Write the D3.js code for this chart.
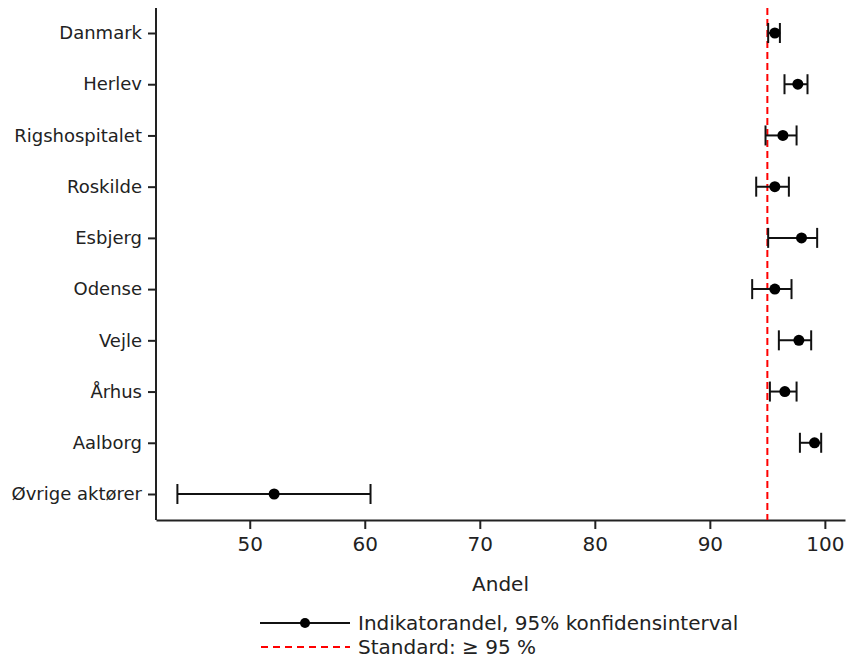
<!DOCTYPE html>
<html lang="da">
<head>
    <meta charset="UTF-8">
    <title>Indikatorandel</title>
    <script src="https://d3js.org/d3.v7.min.js"></script>
    <style>
        body { margin: 0; background: #fff; }
        svg text { font-family: "DejaVu Sans", sans-serif; fill: #222; }
        .domain { stroke: #222; stroke-width: 2px; }
        .tick line { stroke: #222; stroke-width: 2px; }
    </style>
</head>
<body>
    <div id="chart"></div>
    <script>
        const categories = ['Danmark', 'Herlev', 'Rigshospitalet', 'Roskilde', 'Esbjerg',
            'Odense', 'Vejle', 'Århus', 'Aalborg', 'Øvrige aktører'];
        const andel = [95.65, 97.65, 96.35, 95.65, 97.97, 95.65, 97.74, 96.52, 99.1, 52.12];
        const lower = [95.07, 96.49, 94.84, 94.03, 95.07, 93.68, 96.0, 95.22, 97.83, 43.71];
        const upper = [96.09, 98.49, 97.54, 96.87, 99.33, 97.1, 98.81, 97.54, 99.68, 60.5];
        const xTicks = [50, 60, 70, 80, 90, 100];
        const standard = 95;

        const width = 846, height = 659;
        const plotLeft = 156, plotRight = 845, plotTop = 8, plotBottom = 520;

        const svg = d3.select('#chart').append('svg')
            .attr('width', width)
            .attr('height', height);

        const x = d3.scaleLinear()
            .domain([41.85, 101.75])
            .range([plotLeft, plotRight]);

        const y = d3.scalePoint()
            .domain(categories)
            .range([33, 494]);

        // axes
        svg.append('g')
            .attr('transform', `translate(0, ${plotBottom})`)
            .call(d3.axisBottom(x).tickValues(xTicks).tickSize(9).tickPadding(8).tickSizeOuter(0))
            .call(g => g.selectAll('text').style('font-size', '20px'));

        svg.append('g')
            .attr('transform', `translate(${plotLeft}, 0)`)
            .call(d3.axisLeft(y).tickSize(8).tickPadding(6).tickSizeOuter(0))
            .call(g => g.select('.domain').attr('d', `M0,${plotTop}V${plotBottom}`))
            .call(g => g.selectAll('text').style('font-size', '18px'));

        svg.append('text')
            .attr('x', (plotLeft + plotRight) / 2)
            .attr('y', 591)
            .attr('text-anchor', 'middle')
            .style('font-size', '20px')
            .text('Andel');

        // standard line
        svg.append('line')
            .attr('x1', x(standard)).attr('x2', x(standard))
            .attr('y1', plotTop).attr('y2', plotBottom)
            .attr('stroke', '#ff0000')
            .attr('stroke-width', 2)
            .attr('stroke-dasharray', '7,4');

        // error bars
        const rows = categories.map((c, i) => ({ c, v: andel[i], lo: lower[i], hi: upper[i] }));
        const bars = svg.append('g').selectAll('g').data(rows).join('g')
            .attr('transform', d => `translate(0, ${y(d.c)})`);

        bars.append('line')
            .attr('x1', d => x(d.lo)).attr('x2', d => x(d.hi))
            .attr('stroke', '#111').attr('stroke-width', 2);
        bars.append('line')
            .attr('x1', d => x(d.lo)).attr('x2', d => x(d.lo))
            .attr('y1', -10).attr('y2', 10)
            .attr('stroke', '#111').attr('stroke-width', 2);
        bars.append('line')
            .attr('x1', d => x(d.hi)).attr('x2', d => x(d.hi))
            .attr('y1', -10).attr('y2', 10)
            .attr('stroke', '#111').attr('stroke-width', 2);
        bars.append('circle')
            .attr('cx', d => x(d.v))
            .attr('r', 5.5)
            .attr('fill', '#000');

        // legend
        const legend = svg.append('g');
        legend.append('line')
            .attr('x1', 260).attr('x2', 350).attr('y1', 623).attr('y2', 623)
            .attr('stroke', '#111').attr('stroke-width', 2);
        legend.append('circle')
            .attr('cx', 305).attr('cy', 623).attr('r', 5).attr('fill', '#000');
        legend.append('text')
            .attr('x', 358).attr('y', 630)
            .style('font-size', '20px')
            .text('Indikatorandel, 95% konfidensinterval');
        legend.append('line')
            .attr('x1', 261).attr('x2', 350).attr('y1', 647).attr('y2', 647)
            .attr('stroke', '#ff0000').attr('stroke-width', 2)
            .attr('stroke-dasharray', '7,5');
        legend.append('text')
            .attr('x', 358).attr('y', 654)
            .style('font-size', '20px')
            .text('Standard: ≥ 95 %');
    </script>
</body>
</html>
